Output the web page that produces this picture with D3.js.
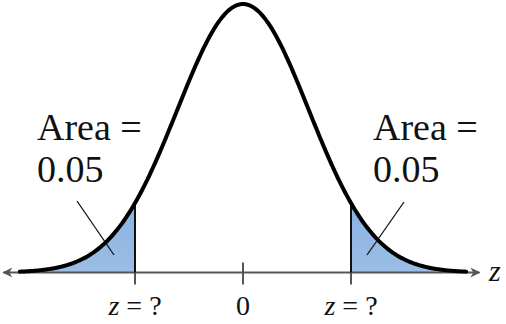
<!DOCTYPE html>
<html>
<head>
<meta charset="utf-8">
<script src="https://cdn.jsdelivr.net/npm/d3@7"></script>
<style>
  body { margin: 0; background: #fff; }
  svg { display: block; }
</style>
</head>
<body>
<svg id="chart" width="506" height="324"></svg>
<script>
// data
const zCrit = 1.645;            // one-tail area 0.05
const curveRange = [-3.4, 3.4];
const axisRange = [-3.65, 3.6];
const tickValues = [-zCrit, 0, zCrit];
const tickLabels = ["z = ?", "0", "z = ?"];
const areaLabels = [["Area =", "0.05"], ["Area =", "0.05"]];

const serif = "'Liberation Serif', 'Times New Roman', serif";
const width = 506, height = 324;
const svg = d3.select("#chart");

const pdf = z => Math.exp(-z * z / 2) / Math.sqrt(2 * Math.PI);

const x = d3.scaleLinear().domain([-zCrit, zCrit]).range([135, 351]);
const y = d3.scaleLinear().domain([0, pdf(0)]).range([272.5, 4]);

const pts = d3.range(curveRange[0], curveRange[1] + 0.001, 0.02).map(z => [z, pdf(z)]);

const area = d3.area().x(d => x(d[0])).y0(y(0)).y1(d => y(d[1]));
const line = d3.line().x(d => x(d[0])).y(d => y(d[1])).curve(d3.curveBasis);

// shaded tails
const leftTail = pts.filter(d => d[0] <= -zCrit).concat([[-zCrit, pdf(-zCrit)]]);
const rightTail = [[zCrit, pdf(zCrit)]].concat(pts.filter(d => d[0] >= zCrit));

const defs = svg.append("defs");
const grad = defs.append("linearGradient")
    .attr("id", "tailFill").attr("x1", 0).attr("y1", 0).attr("x2", 0).attr("y2", 1);
grad.append("stop").attr("offset", "0%").attr("stop-color", "#8ab3e0");
grad.append("stop").attr("offset", "100%").attr("stop-color", "#9bbde6");

svg.selectAll("path.tail")
    .data([leftTail, rightTail])
    .enter().append("path")
    .attr("class", "tail")
    .attr("d", area)
    .attr("fill", "url(#tailFill)");

// axis with arrows
defs.append("marker")
    .attr("id", "arrow")
    .attr("viewBox", "0 0 10 10")
    .attr("refX", 9).attr("refY", 5)
    .attr("markerWidth", 10).attr("markerHeight", 10)
    .attr("markerUnits", "userSpaceOnUse")
    .attr("orient", "auto-start-reverse")
    .append("path")
    .attr("d", "M0,0 L10,5 L0,10 L3,5 Z")
    .attr("fill", "#555");

svg.append("line")
    .attr("x1", x(axisRange[0])).attr("x2", x(axisRange[1]))
    .attr("y1", y(0)).attr("y2", y(0))
    .attr("stroke", "#555").attr("stroke-width", 2)
    .attr("marker-start", "url(#arrow)")
    .attr("marker-end", "url(#arrow)");

// ticks
svg.selectAll("line.tick")
    .data(tickValues)
    .enter().append("line")
    .attr("class", "tick")
    .attr("x1", d => x(d)).attr("x2", d => x(d))
    .attr("y1", y(0) - 10).attr("y2", y(0) + 12)
    .attr("stroke", "#555").attr("stroke-width", 2);

// boundary lines at critical values
svg.selectAll("line.crit")
    .data([-zCrit, zCrit])
    .enter().append("line")
    .attr("class", "crit")
    .attr("x1", d => x(d)).attr("x2", d => x(d))
    .attr("y1", d => y(pdf(d))).attr("y2", y(0))
    .attr("stroke", "#111").attr("stroke-width", 2);

// curve
svg.append("path")
    .datum(pts)
    .attr("d", line)
    .attr("fill", "none")
    .attr("stroke", "#000")
    .attr("stroke-width", 4)
    .attr("stroke-linecap", "round");

// leader lines
const leaders = [[[77, 201], [114, 255]], [[404, 202], [367, 255]]];
svg.selectAll("line.leader")
    .data(leaders)
    .enter().append("line")
    .attr("class", "leader")
    .attr("x1", d => d[0][0]).attr("y1", d => d[0][1])
    .attr("x2", d => d[1][0]).attr("y2", d => d[1][1])
    .attr("stroke", "#111").attr("stroke-width", 1.3);

// area labels
const labelX = [37, 373];
areaLabels.forEach((lines, i) => {
  const t = svg.append("text")
      .attr("x", labelX[i]).attr("y", 140)
      .attr("font-family", serif)
      .attr("fill", "#111")
      .attr("font-size", 38);
  lines.forEach((s, j) => {
    t.append("tspan").attr("x", labelX[i]).attr("dy", j ? 42 : 0).text(s);
  });
});

// tick labels
svg.selectAll("text.ticklabel")
    .data(tickValues)
    .enter().append("text")
    .attr("class", "ticklabel")
    .attr("x", d => x(d))
    .attr("y", 315)
    .attr("text-anchor", "middle")
    .attr("font-family", serif)
    .attr("fill", "#111")
    .attr("font-size", 28)
    .each(function(d, i) {
      const s = tickLabels[i];
      const el = d3.select(this);
      if (s.startsWith("z")) {
        el.append("tspan").attr("font-style", "italic").text("z");
        el.append("tspan").text(s.slice(1));
      } else {
        el.text(s);
      }
    });

// axis name
svg.append("text")
    .attr("x", 489).attr("y", 281)
    .attr("font-family", serif)
    .attr("fill", "#111")
    .attr("font-size", 30)
    .attr("font-style", "italic")
    .text("z");
</script>
</body>
</html>
